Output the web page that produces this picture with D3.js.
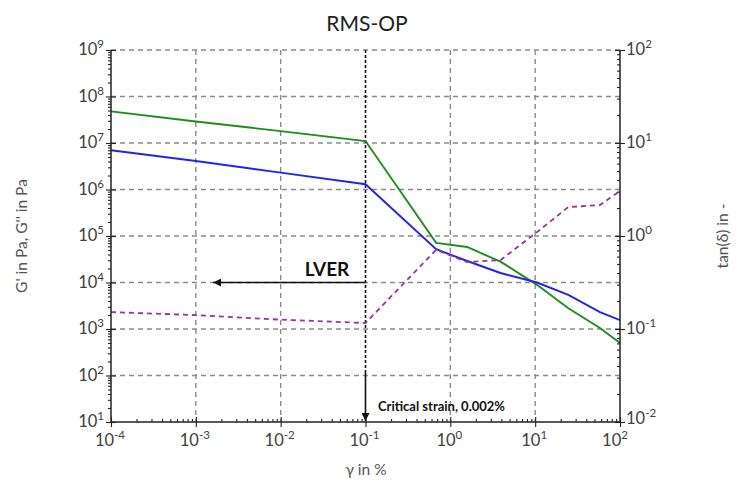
<!DOCTYPE html>
<html><head><meta charset="utf-8">
<script src="https://cdn.jsdelivr.net/npm/d3@7"></script>
<style>body{margin:0;background:#fff}svg{display:block}</style>
</head><body>
<svg id="c" width="742" height="481"></svg>
<script>
const strain    = [1e-4, 1e-3, 1e-2, 0.1, 0.68, 1.58, 3.9, 10.5, 24.6, 58, 100];
const gPrime    = [4.8e7, 2.9e7, 1.8e7, 1.1e7, 7.1e4, 5.8e4, 2.8e4, 8.9e3, 2.8e3, 1.05e3, 5.0e2];
const gDouble   = [7.0e6, 4.1e6, 2.3e6, 1.3e6, 5.2e4, 2.9e4, 1.6e4, 1.0e4, 5.4e3, 2.3e3, 1.55e3];
const tanDelta  = [0.152, 0.141, 0.126, 0.116, 0.71, 0.525, 0.55, 1.1, 2.05, 2.15, 3.05];
const xDecades  = [-4, -3, -2, -1, 0, 1, 2];
const yDecades  = [1, 2, 3, 4, 5, 6, 7, 8, 9];
const rDecades  = [-2, -1, 0, 1, 2];
const criticalStrain = 0.1;
const lverValue = 1e4, lverEnd = 1.6e-3;

const svg = d3.select("#c");
const L = 111, R = 620, T = 50, B = 422;
const x = d3.scaleLog().domain([1e-4, 1e2]).range([L, R]);
const y = d3.scaleLog().domain([1e1, 1e9]).range([B, T]);
const yr = d3.scaleLog().domain([1e-2, 1e2]).range([B, T]);
const FONT = "Lato, 'Open Sans', sans-serif";

function minors(dec) {
  const out = [];
  for (let i = 0; i < dec.length - 1; i++)
    for (let k = 2; k <= 9; k++) out.push(k * Math.pow(10, dec[i]));
  return out;
}

// grid
const grid = svg.append("g").attr("stroke", "#8a8a8a").attr("stroke-width", 1.4).attr("stroke-dasharray", "5,4");
yDecades.filter(d => d > 1).forEach(d => grid.append("line").attr("x1", L).attr("x2", R).attr("y1", y(10 ** d)).attr("y2", y(10 ** d)));
xDecades.filter(d => d > -4 && d < 2 && 10 ** d !== criticalStrain).forEach(d => grid.append("line").attr("y1", T).attr("y2", B).attr("x1", x(10 ** d)).attr("x2", x(10 ** d)));

// critical vertical dashed line
svg.append("line").attr("x1", x(criticalStrain)).attr("x2", x(criticalStrain)).attr("y1", T).attr("y2", 372)
  .attr("stroke", "#111").attr("stroke-width", 1.6).attr("stroke-dasharray", "3,2");
svg.append("defs").append("marker").attr("id", "ah").attr("viewBox", "0 0 10 10").attr("refX", 10).attr("refY", 5)
  .attr("markerWidth", 8).attr("markerHeight", 8).attr("markerUnits", "userSpaceOnUse").attr("orient", "auto")
  .append("path").attr("d", "M0,0L10,5L0,10Z").attr("fill", "#111");
svg.append("line").attr("x1", x(criticalStrain)).attr("x2", x(criticalStrain)).attr("y1", 372).attr("y2", B - 1)
  .attr("stroke", "#111").attr("stroke-width", 1.6).attr("marker-end", "url(#ah)");
// LVER arrow
svg.append("line").attr("x1", x(criticalStrain)).attr("x2", x(lverEnd)).attr("y1", y(lverValue)).attr("y2", y(lverValue))
  .attr("stroke", "#111").attr("stroke-width", 1.6).attr("marker-end", "url(#ah)");
svg.append("text").attr("x", 327).attr("y", 276).attr("text-anchor", "middle").attr("font-family", FONT)
  .attr("font-weight", "bold").attr("font-size", 19).attr("fill", "#111").text("LVER");
svg.append("text").attr("x", 378).attr("y", 411).attr("font-family", FONT)
  .attr("font-weight", "bold").attr("font-size", 13).attr("fill", "#111").text("Critical strain, 0.002%");

// lines
const idx = d3.range(strain.length);
svg.append("path").attr("d", d3.line().x(i => x(strain[i])).y(i => y(gPrime[i]))(idx)).attr("fill", "none").attr("stroke", "#1f8c1f").attr("stroke-width", 1.9);
svg.append("path").attr("d", d3.line().x(i => x(strain[i])).y(i => y(gDouble[i]))(idx)).attr("fill", "none").attr("stroke", "#2323f0").attr("stroke-width", 1.9);
svg.append("path").attr("d", d3.line().x(i => x(strain[i])).y(i => yr(tanDelta[i]))(idx)).attr("fill", "none")
  .attr("stroke", "#993399").attr("stroke-width", 1.8).attr("stroke-dasharray", "5,4");

// axes
function styleAxis(g) { g.select(".domain").remove(); g.selectAll("line").attr("stroke", "#222").attr("stroke-width", 1.1); g.selectAll("text").remove(); }
svg.append("g").attr("transform", `translate(${L},0)`).call(d3.axisLeft(y).tickValues(yDecades.map(d => 10 ** d)).tickSize(5)).call(styleAxis);
svg.append("g").attr("transform", `translate(${L},0)`).call(d3.axisLeft(y).tickValues(yDecades.map(d => 10 ** d)).tickSize(-5)).call(styleAxis);
svg.append("g").attr("transform", `translate(${L},0)`).call(d3.axisLeft(y).tickValues(minors(yDecades)).tickSize(3)).call(styleAxis);
svg.append("g").attr("transform", `translate(${R},0)`).call(d3.axisRight(yr).tickValues(rDecades.map(d => 10 ** d)).tickSize(5)).call(styleAxis);
svg.append("g").attr("transform", `translate(${R},0)`).call(d3.axisRight(yr).tickValues(rDecades.map(d => 10 ** d)).tickSize(-5)).call(styleAxis);
svg.append("g").attr("transform", `translate(${R},0)`).call(d3.axisRight(yr).tickValues(minors(rDecades)).tickSize(-3)).call(styleAxis);
svg.append("g").attr("transform", `translate(0,${B})`).call(d3.axisBottom(x).tickValues(xDecades.map(d => 10 ** d)).tickSize(5)).call(styleAxis);
svg.append("g").attr("transform", `translate(0,${B})`).call(d3.axisBottom(x).tickValues(xDecades.map(d => 10 ** d)).tickSize(-5)).call(styleAxis);
svg.append("g").attr("transform", `translate(0,${B})`).call(d3.axisBottom(x).tickValues(minors(xDecades)).tickSize(-3)).call(styleAxis);
const ax = svg.append("g").attr("stroke", "#222").attr("stroke-width", 1.5);
ax.append("line").attr("x1", L).attr("x2", L).attr("y1", T).attr("y2", B);
ax.append("line").attr("x1", R).attr("x2", R).attr("y1", T).attr("y2", B);
ax.append("line").attr("x1", L).attr("x2", R).attr("y1", B).attr("y2", B);

// tick labels
function pow(sel, e) {
  sel.append("tspan").text("10");
  sel.append("tspan").attr("dy", -7).attr("font-size", 11.5).text(e);
}
yDecades.forEach(d => svg.append("text").attr("x", 104).attr("y", y(10 ** d) + 5).attr("text-anchor", "end")
  .attr("font-family", FONT).attr("font-size", 16.5).attr("fill", "#404040").call(pow, d));
rDecades.forEach(d => svg.append("text").attr("x", 626).attr("y", yr(10 ** d) + (d === -2 ? 2 : 5))
  .attr("font-family", FONT).attr("font-size", 16.5).attr("fill", "#404040").call(pow, d));
xDecades.forEach(d => svg.append("text").attr("x", x(10 ** d) - (d === 2 ? 5 : 1)).attr("y", 446).attr("text-anchor", "middle")
  .attr("font-family", FONT).attr("font-size", 16.5).attr("fill", "#404040").call(pow, d));

// titles
svg.append("text").attr("x", 367).attr("y", 31).attr("text-anchor", "middle").attr("font-family", FONT)
  .attr("font-size", 21).attr("fill", "#222").text("RMS-OP");
svg.append("text").attr("x", 366).attr("y", 475).attr("text-anchor", "middle").attr("font-family", FONT)
  .attr("font-size", 15.5).attr("fill", "#555").text("γ in %");
svg.append("text").attr("transform", "translate(27,236) rotate(-90)").attr("text-anchor", "middle").attr("font-family", FONT)
  .attr("font-size", 15.5).attr("fill", "#555").text("G' in Pa, G'' in Pa");
svg.append("text").attr("transform", "translate(728,236) rotate(-90)").attr("text-anchor", "middle").attr("font-family", FONT)
  .attr("font-size", 15.5).attr("fill", "#555").text("tan(δ) in -");
</script>
</body></html>
